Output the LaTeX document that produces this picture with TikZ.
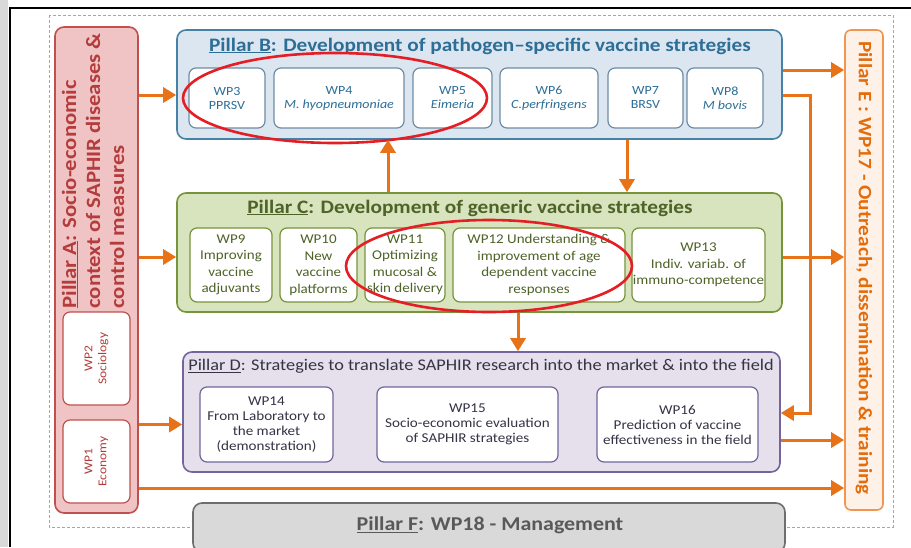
\documentclass[tikz,border=0pt]{standalone}
\usepackage{fontspec}
\setmainfont{Carlito}[FakeStretch=1.12]
\usepackage{tikz}
\usetikzlibrary{arrows.meta,positioning,calc,shapes.geometric}
\definecolor{orng}{RGB}{232,114,24}
\definecolor{redline}{RGB}{228,30,36}
\definecolor{afill}{RGB}{240,196,196}
\definecolor{adraw}{RGB}{192,80,77}
\definecolor{atext}{RGB}{180,60,60}
\definecolor{bfill}{RGB}{220,230,241}
\definecolor{bdraw}{RGB}{70,130,165}
\definecolor{bwp}{RGB}{110,140,165}
\definecolor{btext}{RGB}{45,110,150}
\definecolor{cfill}{RGB}{215,228,189}
\definecolor{cdraw}{RGB}{119,147,60}
\definecolor{ctext}{RGB}{79,98,40}
\definecolor{dfill}{RGB}{229,224,236}
\definecolor{ddraw}{RGB}{115,100,155}
\definecolor{dtext}{RGB}{55,50,70}
\definecolor{efill}{RGB}{254,242,232}
\definecolor{edraw}{RGB}{240,150,80}
\definecolor{etext}{RGB}{228,108,10}
\definecolor{ffill}{RGB}{217,217,217}
\definecolor{fdraw}{RGB}{110,110,110}
\definecolor{ftext}{RGB}{89,89,89}

\begin{document}
\begin{tikzpicture}[x=1pt,y=-1pt,>=Stealth,
  pillar/.style={draw,line width=1.6pt,rounded corners=9pt,inner sep=0pt},
  wp/.style={draw,fill=white,line width=1.2pt,rounded corners=7pt,inner sep=1pt,align=center,font=\fontsize{12.5}{14}\selectfont},
  wpB/.style={wp,draw=bwp,text=btext,minimum height=60pt},
  wpC/.style={wp,draw=cdraw,text=ctext,minimum height=74pt,font=\fontsize{13.4}{16.5}\selectfont},
  wpD/.style={wp,draw=ddraw,text=dtext,minimum height=75pt,font=\fontsize{13.5}{15}\selectfont},
  title/.style={font=\fontsize{19}{22}\selectfont\bfseries},
  ring/.style={draw=redline,line width=2.6pt,ellipse,inner sep=0pt},
  arr/.style={-{Triangle[length=13pt,width=15pt]},draw=orng,line width=3pt}]
  \useasboundingbox (0,0) rectangle (911,547);
  \fill[gray!30] (0,0) rectangle (8,547);
  \draw[line width=1.5pt] (10,547) -- (10,8) -- (911,8);
  \draw[gray!70,densely dashed] (49,15) rectangle (893,527);

  \node[pillar,fill=afill,draw=adraw,minimum width=83pt,minimum height=486pt] (pA) at (96.5,270) {};
  \node[rotate=90,anchor=west,align=left,text=atext,font=\fontsize{20.3}{24}\selectfont\bfseries] (tA) at (93,312)
    {\underline{Pillar A}: Socio-economic\\context of SAPHIR diseases \&\\control measures};
  \node[wp,rotate=90,draw=adraw,text=atext,minimum width=93pt,minimum height=67pt,font=\fontsize{12}{14}\selectfont] (wp2) at (96.5,358.5) {WP2\\Sociology};
  \node[wp,rotate=90,draw=adraw,text=atext,minimum width=83pt,minimum height=67pt,font=\fontsize{12}{14}\selectfont] (wp1) at (96.5,461.5) {WP1\\Economy};

  \node[pillar,fill=bfill,draw=bdraw,minimum width=605pt,minimum height=109pt] (pB) at (479.5,84.5) {};
  \node[title,text=btext] (tB) at (480,46) {\underline{Pillar B}: Development of pathogen--specific vaccine strategies};
  \node[wpB,minimum width=76pt] (wp3) at (227,98) {WP3\\PPRSV};
  \node[wpB,minimum width=130pt] (wp4) at (339,98) {WP4\\\textit{M. hyopneumoniae}};
  \node[wpB,minimum width=79pt] (wp5) at (452.5,98) {WP5\\\textit{Eimeria}};
  \node[wpB,minimum width=98pt] (wp6) at (549,98) {WP6\\\textit{C.perfringens}};
  \node[wpB,minimum width=75pt] (wp7) at (645.5,98) {WP7\\BRSV};
  \node[wpB,minimum width=76pt] (wp8) at (725,98) {WP8\\\textit{M bovis}};

  \node[pillar,fill=cfill,draw=cdraw,minimum width=605pt,minimum height=119pt] (pC) at (479.5,252.5) {};
  \node[title,text=ctext] (tC) at (470,208) {\underline{Pillar C}: Development of generic vaccine strategies};
  \node[wpC,minimum width=82pt] (wp9) at (231,265) {WP9\\Improving\\vaccine\\adjuvants};
  \node[wpC,minimum width=77pt] (wp10) at (318.5,265) {WP10\\New\\vaccine\\platforms};
  \node[wpC,minimum width=80pt] (wp11) at (405,265) {WP11\\Optimizing\\mucosal \&\\skin delivery};
  \node[wpC,minimum width=172pt] (wp12) at (539,265) {WP12 Understanding \&\\improvement of age\\dependent vaccine\\responses};
  \node[wpC,minimum width=133pt] (wp13) at (698.5,265) {WP13\\Indiv. variab. of\\immuno-competence};

  \node[pillar,fill=dfill,draw=ddraw,minimum width=597pt,minimum height=120pt] (pD) at (481.5,412) {};
  \node[text=dtext,font=\fontsize{16.3}{19}\selectfont] (tD) at (481,366) {\underline{Pillar D}: Strategies to translate SAPHIR research into the market \& into the field};
  \node[wpD,minimum width=133pt] (wp14) at (266.5,424.5) {WP14\\From Laboratory to\\the market\\(demonstration)};
  \node[wpD,minimum width=181pt] (wp15) at (467.5,424.5) {WP15\\Socio-economic evaluation\\of SAPHIR strategies};
  \node[wpD,minimum width=161pt] (wp16) at (677.5,424.5) {WP16\\Prediction of vaccine\\effectiveness in the field};

  \node[pillar,fill=efill,draw=edraw,minimum width=38pt,minimum height=480pt,rounded corners=6pt] (pE) at (864,270) {};
  \node[rotate=-90,text=etext,font=\fontsize{19}{22}\selectfont\bfseries] (tE) at (864,268) {Pillar E : WP17 - Outreach, dissemination \& training};

  \node[pillar,fill=ffill,draw=fdraw,minimum width=592pt,minimum height=49pt] (pF) at (489,527.5) {};
  \node[title,text=ftext,font=\fontsize{19.6}{23}\selectfont\bfseries] (tF) at (490,525) {\underline{Pillar F}: WP18 - Management};

  \node[ring,minimum width=304pt,minimum height=90pt] (ringB) at (335,98) {};
  \node[ring,minimum width=286pt,minimum height=92pt] (ringC) at (489,266) {};

  \coordinate (yb1) at (0,70);
  \coordinate (yb2) at (0,95);
  \coordinate (yc) at (0,257);
  \coordinate (yd1) at (0,413);
  \coordinate (yd2) at (0,440);
  \coordinate (ya) at (0,488);
  \coordinate (xloop) at (810,0);
  \coordinate (xup) at (388,0);
  \coordinate (xdown) at (627,0);
  \coordinate (xcd) at (518,0);

  \draw[arr] (pA.east |- yb2) -- (pB.west |- yb2);
  \draw[arr] (pA.east |- yc) -- (pC.west |- yc);
  \draw[arr] (pA.east |- wp14) -- (pD.west |- wp14);
  \draw[arr] (pA.east |- ya) -- (pE.west |- ya);
  \draw[arr] (pB.east |- yb2) -| (xloop |- yd1) -- (pD.east |- yd1);
  \draw[arr] (pB.east |- yb1) -- (pE.west |- yb1);
  \draw[arr] (pC.east |- yc) -- (pE.west |- yc);
  \draw[arr] (pD.east |- yd2) -- (pE.west |- yd2);
  \draw[arr] (pC.north -| xup) -- (pB.south -| xup);
  \draw[arr] (pB.south -| xdown) -- (pC.north -| xdown);
  \draw[arr] (pC.south -| xcd) -- (pD.north -| xcd);
\end{tikzpicture}
\end{document}
